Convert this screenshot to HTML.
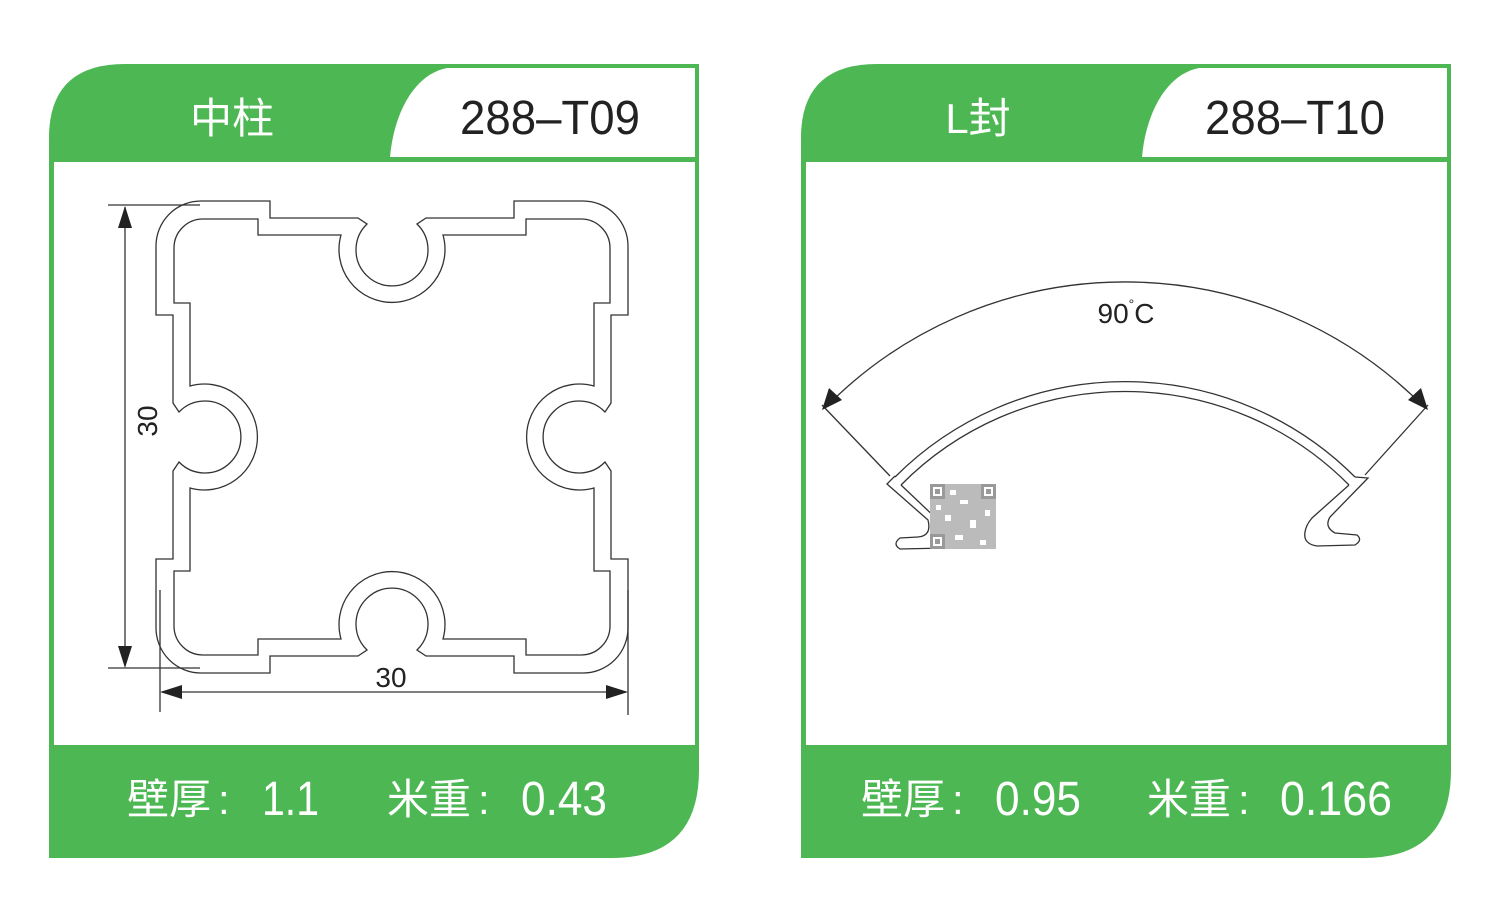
<!DOCTYPE html>
<html><head><meta charset="utf-8"><style>
html,body{margin:0;padding:0;background:#fff;width:1500px;height:915px;overflow:hidden}
svg{display:block}
.w{fill:#fff;font-family:"Liberation Sans","Noto Sans CJK SC",sans-serif}
.k{fill:#222;font-family:"Liberation Sans",sans-serif}
.ln{fill:none;stroke:#333;stroke-width:1.3}
</style></head><body>
<svg width="1500" height="915" viewBox="0 0 1500 915" xmlns="http://www.w3.org/2000/svg">
<defs>
<g id="card">
  <path d="M49,138 Q49,64 125,64 L699,64 L699,770 Q699,858 612,858 L49,858 Z" fill="#4db853"/>
  <rect x="54" y="162" width="641" height="583" fill="#fff"/>
  <path d="M390,157 C394,112 415,74 447,68 L695,68 L695,157 Z" fill="#fff"/>
</g>
<g id="sideO">
  <path class="ln" d="M-191,-236 L-122,-236 L-122,-219 L-34,-219 L-25,-213 A36,36 0 1 0 25,-213 L34,-219 L122,-219 L122,-236 L191,-236 A45,45 0 0 1 236,-191"/>
  <path class="ln" d="M-189,-218 L-134,-218 L-134,-202 L-51,-202 A53,53 0 1 0 51,-202 L134,-202 L134,-218 L189,-218 A29,29 0 0 1 218,-189"/>
</g>
</defs>
<use href="#card"/>
<use href="#card" transform="translate(752,0)"/>

<text class="w" x="232" y="133" font-size="42" text-anchor="middle">中柱</text>
<text class="k" x="460" y="134" font-size="48" textLength="180" lengthAdjust="spacingAndGlyphs">288–T09</text>
<text class="w" x="978" y="133" font-size="42" text-anchor="middle">L封</text>
<text class="k" x="1205" y="134" font-size="48" textLength="180" lengthAdjust="spacingAndGlyphs">288–T10</text>

<text class="w" x="127" y="814" font-size="42">壁厚</text>
<text class="w" x="218" y="814" font-size="42">:</text>
<text class="w" x="262" y="815" font-size="48" textLength="57" lengthAdjust="spacingAndGlyphs">1.1</text>
<text class="w" x="387" y="814" font-size="42">米重</text>
<text class="w" x="478" y="814" font-size="42">:</text>
<text class="w" x="521" y="815" font-size="48" textLength="86" lengthAdjust="spacingAndGlyphs">0.43</text>

<text class="w" x="861" y="814" font-size="42">壁厚</text>
<text class="w" x="952" y="814" font-size="42">:</text>
<text class="w" x="995" y="815" font-size="48" textLength="86" lengthAdjust="spacingAndGlyphs">0.95</text>
<text class="w" x="1147" y="814" font-size="42">米重</text>
<text class="w" x="1238" y="814" font-size="42">:</text>
<text class="w" x="1280" y="815" font-size="48" textLength="112" lengthAdjust="spacingAndGlyphs">0.166</text>

<!-- left profile -->
<g transform="translate(392,437)">
  <use href="#sideO"/>
  <use href="#sideO" transform="rotate(90)"/>
  <use href="#sideO" transform="rotate(180)"/>
  <use href="#sideO" transform="rotate(270)"/>
</g>
<!-- dims left -->
<g class="ln" stroke-width="1">
  <line x1="108" y1="205" x2="200" y2="205"/>
  <line x1="108" y1="668" x2="200" y2="668"/>
  <line x1="125" y1="207" x2="125" y2="666"/>
  <line x1="160" y1="590" x2="160" y2="712"/>
  <line x1="628" y1="590" x2="628" y2="715"/>
  <line x1="162" y1="692" x2="626" y2="692"/>
</g>
<path d="M125,206 L118,228 L132,228 Z M125,668 L118,646 L132,646 Z M160,692 L182,685 L182,699 Z M628,692 L606,685 L606,699 Z" fill="#222"/>
<text class="k" x="0" y="0" font-size="28" transform="translate(157,421) rotate(-90)" text-anchor="middle">30</text>
<text class="k" x="391" y="687" font-size="28" text-anchor="middle">30</text>

<!-- right profile -->
<path class="ln" stroke-width="1" d="M825,408 A420,420 0 0 1 1425,408"/>
<line class="ln" stroke-width="1" x1="822" y1="405" x2="890" y2="476"/>
<line class="ln" stroke-width="1" x1="1428" y1="405" x2="1365" y2="475"/>
<path d="M822,410 L829,388 L842,400 Z M1428,410 L1408,400 L1421,388 Z" fill="#222"/>
<text class="k" x="1126" y="323" font-size="28" text-anchor="middle">90<tspan font-size="14" dy="-14">°</tspan><tspan dy="14">C</tspan></text>
<path class="ln" d="M895,477 A325,325 0 0 1 1355,477"/>
<path class="ln" d="M901,485 A315,315 0 0 1 1349,485"/>
<path class="ln" d="M895,476 L887,484 L928,520 Q932,536 918,537 L900,538 Q892,544 900,549 L946,548 Q951,540 946,532 L940,522 L901,485"/>
<path class="ln" d="M1355,477 L1368,478 L1330,517 Q1324,527 1335,533 L1357,535 Q1363,540 1355,545 L1317,546 Q1303,544 1305,532 Q1306,525 1312,518 L1349,485"/>
<!-- QR -->
<g fill="#999">
  <rect x="930" y="484" width="66" height="65" fill="#bbb"/>
  <rect x="930" y="484" width="15" height="15"/><rect x="933" y="487" width="9" height="9" fill="#fff"/><rect x="935" y="489" width="5" height="5"/>
  <rect x="981" y="484" width="15" height="15"/><rect x="984" y="487" width="9" height="9" fill="#fff"/><rect x="986" y="489" width="5" height="5"/>
  <rect x="930" y="534" width="15" height="15"/><rect x="933" y="537" width="9" height="9" fill="#fff"/><rect x="935" y="539" width="5" height="5"/>
  <rect x="950" y="490" width="6" height="5" fill="#fff"/><rect x="960" y="500" width="8" height="4" fill="#fff"/>
  <rect x="945" y="515" width="6" height="6" fill="#fff"/><rect x="970" y="520" width="6" height="8" fill="#fff"/>
  <rect x="955" y="535" width="8" height="5" fill="#fff"/><rect x="980" y="540" width="6" height="5" fill="#fff"/>
  <rect x="985" y="510" width="5" height="6" fill="#fff"/><rect x="936" y="505" width="5" height="5" fill="#fff"/>
</g>
</svg>
</body></html>
